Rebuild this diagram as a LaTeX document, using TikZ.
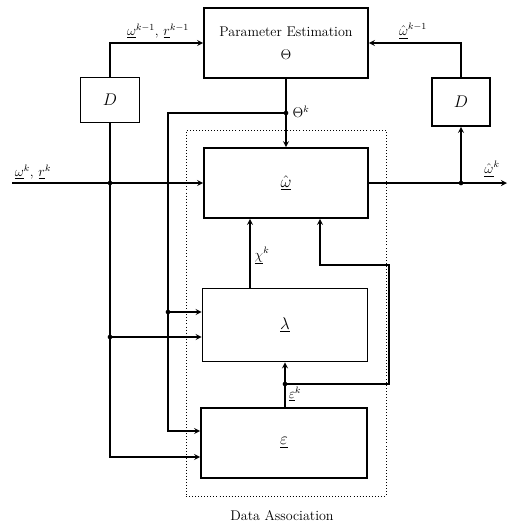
\documentclass[tikz,border=0pt]{standalone}
\usepackage{amsmath}
\usepackage{amssymb}
\usepackage{tikz}

\begin{document}
\begin{tikzpicture}[>=stealth, line width=1.3pt, x=0.03cm, y=-0.03cm,
		block/.style={draw, rectangle, inner sep=0pt},
		junc/.style={circle, fill, inner sep=0pt, minimum size=4pt}]
		\useasboundingbox (0,0) rectangle (509,527);

		% Nodes
		\node[block, minimum width=4.92cm, minimum height=2.1cm, align=center, font=\large] (param) at (286,43) {Parameter Estimation\\[6pt] $\Theta$};
		\node[block, minimum width=1.77cm, minimum height=1.35cm, font=\Large] (dleft) at (110,100) {$D$};
		\node[block, minimum width=1.74cm, minimum height=1.44cm, font=\Large] (dright) at (461,102) {$D$};
		\node[block, minimum width=4.92cm, minimum height=2.1cm, font=\Large] (omega) at (286,183) {$\hat{\underline{\omega}}$};
		\node[block, minimum width=4.95cm, minimum height=2.19cm, font=\Large] (lambda) at (285,325) {$\underline{\lambda}$};
		\node[block, minimum width=4.98cm, minimum height=2.1cm, font=\Large] (eps) at (284,443) {$\underline{\varepsilon}$};

		% Data association frame
		\node[draw, dotted, semithick, minimum width=6cm, minimum height=10.98cm] (assoc) at (286,313) {};
		\node[font=\large] (assoclbl) at (282,516) {Data Association};

		% Junctions and corners
		\coordinate (in) at (12,183);
		\coordinate (jin) at (110,183);
		\coordinate (j2) at (110,337);
		\coordinate (e2) at (110,457);
		\coordinate (jth) at (286,113);
		\coordinate (c1) at (168,113);
		\coordinate (j1) at (168,312);
		\coordinate (e1) at (168,431);
		\coordinate (jout) at (461,183);
		\coordinate (out) at (507,183);
		\coordinate (jeps) at (285,384);
		\coordinate (f1) at (389,384);
		\coordinate (f2) at (389,265);
		\coordinate (f3) at (320,265);

		% Connecting lines
		\draw[->] (in) -- (omega.west);
		\draw[->] (dleft.north) |- (param.west);
		\draw[->] (dleft.south) -- (e2) -- (eps.west |- e2);
		\draw[->] (j2) -- (lambda.west |- j2);
		\draw[->] (param.south) -- (omega.north);
		\draw[->] (jth) -- (c1) -- (e1) -- (eps.west |- e1);
		\draw[->] (j1) -- (lambda.west |- j1);
		\draw[->] (omega.east) -- (out);
		\draw[->] (jout) -- (dright.south);
		\draw[->] (dright.north) |- (param.east);
		\draw[->] (lambda.north -| 250,0) -- (omega.south -| 250,0);
		\draw[->] (eps.north -| jeps) -- (lambda.south -| jeps);
		\draw[->] (jeps) -- (f1) -- (f2) -- (f3) -- (omega.south -| f3);

		\foreach \j in {jin, j2, jth, j1, jout, jeps}
			\node[junc] at (\j) {};

		% Labels
		\node[font=\large] (lblprev) at (158,31) {$\underline{\omega}^{k-1},\,\underline{r}^{k-1}$};
		\node[font=\large] (lblhatprev) at (413,31) {$\hat{\underline{\omega}}^{k-1}$};
		\node[font=\large] (lbltheta) at (301,112) {$\Theta^k$};
		\node[font=\large] (lblin) at (33,172) {$\underline{\omega}^k,\,\underline{r}^k$};
		\node[font=\large] (lblout) at (492,169) {$\hat{\underline{\omega}}^k$};
		\node[font=\large] (lblchi) at (262,256) {$\underline{\chi}^k$};
		\node[font=\large] (lbleps) at (295,394) {$\underline{\varepsilon}^k$};
	\end{tikzpicture}
\end{document}
